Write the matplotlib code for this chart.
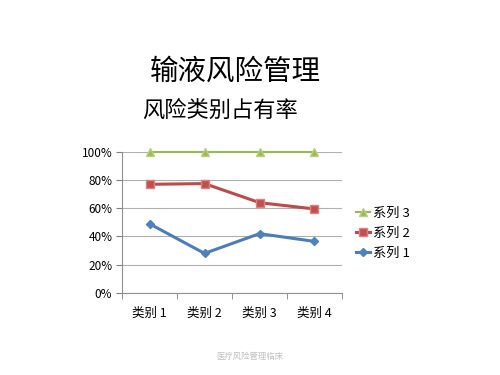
import numpy as np
import matplotlib.pyplot as plt
from matplotlib.ticker import FixedLocator, PercentFormatter

plt.rcParams['font.family'] = ['Noto Sans CJK SC', 'DejaVu Sans']

categories = ['类别 1', '类别 2', '类别 3', '类别 4']
series1 = [0.49, 0.28, 0.42, 0.365]
series2 = [0.77, 0.775, 0.64, 0.595]
series3 = [1.00, 1.00, 1.00, 1.00]
names = ['系列 1', '系列 2', '系列 3']

fig = plt.figure(figsize=(5, 3.75), dpi=100)
fig.text(0.47, 0.808, '输液风险管理', ha='center', va='center', fontsize=20.5)
fig.text(0.44, 0.706, '风险类别占有率', ha='center', va='center', fontsize=16)
fig.text(0.5, 0.05, '医疗风险管理临床', ha='center', va='center', fontsize=6, color='#c0c0c0')

ax = fig.add_axes([0.244, 0.219, 0.44, 0.376])
x = np.arange(len(categories))

l1, = ax.plot(x, series1, color='#4a7ebb', lw=2.2, marker='D', ms=4.5,
              mfc='#4f81bd', mec='#4f81bd', zorder=3, clip_on=False)
l2, = ax.plot(x, series2, color='#be4b48', lw=2.2, marker='s', ms=5.5,
              mfc='#c0504d', mec='#e08080', zorder=3, clip_on=False)
l3, = ax.plot(x, series3, color='#98b954', lw=1.5, marker='^', ms=6,
              mfc='#9bbb59', mec='#b8d080', zorder=3, clip_on=False)

ax.set_xlim(-0.5, len(categories) - 0.5)
ax.set_ylim(0, 1)
ax.set_yticks(np.arange(0, 1.01, 0.2))
ax.yaxis.set_major_formatter(PercentFormatter(1.0, decimals=0))
ax.yaxis.grid(True, color='#b0b0b0', lw=0.8)
ax.set_axisbelow(True)
ax.set_xticks(x)
ax.set_xticklabels(categories)
ax.xaxis.set_minor_locator(FixedLocator(np.arange(-0.5, len(categories), 1)))
ax.tick_params(axis='x', which='major', length=0, labelsize=9, pad=10)
ax.tick_params(axis='x', which='minor', length=4, color='#808080')
ax.tick_params(axis='y', length=4, color='#808080', labelsize=8.5, pad=3)

for s in ['top', 'right']:
    ax.spines[s].set_visible(False)
for s in ['left', 'bottom']:
    ax.spines[s].set_color('#909090')

leg = fig.legend([l3, l2, l1], names[::-1], loc='center left',
                 bbox_to_anchor=(0.688, 0.378), frameon=False, fontsize=9.5,
                 handlelength=1.1, handletextpad=0.2, labelspacing=0.52)

fig.savefig('out.png', dpi=100)
